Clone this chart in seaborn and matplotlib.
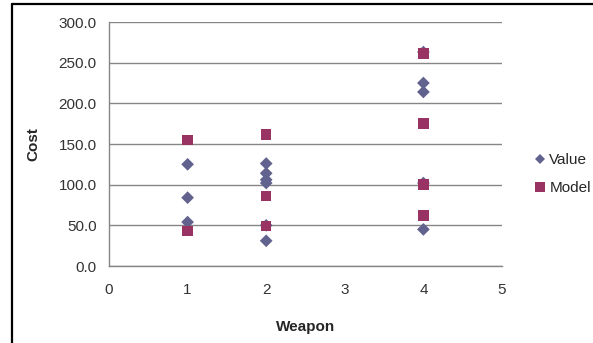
import matplotlib
matplotlib.use("Agg")
import matplotlib.pyplot as plt
from matplotlib.lines import Line2D
import seaborn as sns
import pandas as pd

# Weapon category / cost readings for the two series
value_weapon = [1, 1, 1, 2, 2, 2, 2, 2, 2, 4, 4, 4, 4, 4]
value_cost = [125, 84, 54, 126, 114, 106, 102, 50, 31, 263, 225, 214, 102, 45]
model_weapon = [1, 1, 2, 2, 2, 4, 4, 4, 4]
model_cost = [155, 43, 162, 86, 49, 261, 175, 100, 62]

series_names = ["Value", "Model"]
series_colors = {"Value": "#62628f", "Model": "#983363"}
series_markers = {"Value": "D", "Model": "s"}

x_ticks = [0, 1, 2, 3, 4, 5]
y_ticks = [0, 50, 100, 150, 200, 250, 300]

df = pd.concat([
    pd.DataFrame({"Weapon": value_weapon, "Cost": value_cost, "Series": "Value"}),
    pd.DataFrame({"Weapon": model_weapon, "Cost": model_cost, "Series": "Model"}),
], ignore_index=True)

sns.set_style("white")
plt.rcParams["font.family"] = ["Liberation Sans", "DejaVu Sans"]

W, H = 593, 343
fig = plt.figure(figsize=(W / 100, H / 100), dpi=100)
ax = fig.add_axes([109 / W, (H - 266) / H, (502 - 109) / W, (266 - 22) / H])

for name in series_names:
    sub = df[df["Series"] == name]
    size = 58 if name == "Model" else 42
    sns.scatterplot(data=sub, x="Weapon", y="Cost", ax=ax,
                    color=series_colors[name], marker=series_markers[name],
                    s=size, edgecolor="none", linewidth=0, zorder=3, legend=False)

ax.set_xlim(0, 5)
ax.set_ylim(0, 300)
ax.set_xticks(x_ticks)
ax.set_xticklabels([str(t) for t in x_ticks])
ax.set_yticks(y_ticks)
ax.set_yticklabels([f"{t:.1f}" for t in y_ticks])
ax.yaxis.grid(True, color="#868686", linewidth=1.0)
ax.xaxis.grid(False)
ax.set_axisbelow(True)
for side in ("top", "right"):
    ax.spines[side].set_visible(False)
for side in ("left", "bottom"):
    ax.spines[side].set_color("#868686")
    ax.spines[side].set_linewidth(1.0)
ax.tick_params(axis="y", labelsize=11, pad=9, colors="#333333", length=0)
ax.tick_params(axis="x", labelsize=11, pad=12, colors="#333333", length=0)

ax.set_xlabel("Weapon", fontsize=11, fontweight="bold", labelpad=17)
ax.set_ylabel("Cost", fontsize=11, fontweight="bold", labelpad=13)

handles = [Line2D([0], [0], linestyle="none", marker=series_markers[n],
                  color=series_colors[n], markersize=5.5 if n == "Value" else 6.5,
                  markeredgewidth=0) for n in series_names]
fig.legend(handles, series_names, loc="center left", bbox_to_anchor=(528 / W, 1 - 174 / H),
           frameon=False, fontsize=11, handlelength=0.6, handletextpad=0.3,
           labelspacing=0.9, borderpad=0.0)

# outer frame: left and top edges
fig.add_artist(Line2D([11.5 / W, 11.5 / W], [0, 1 - 4 / H], color="black", linewidth=1.6))
fig.add_artist(Line2D([11.5 / W, 1], [1 - 4 / H, 1 - 4 / H], color="black", linewidth=1.6))

fig.savefig("out.png", dpi=100)
